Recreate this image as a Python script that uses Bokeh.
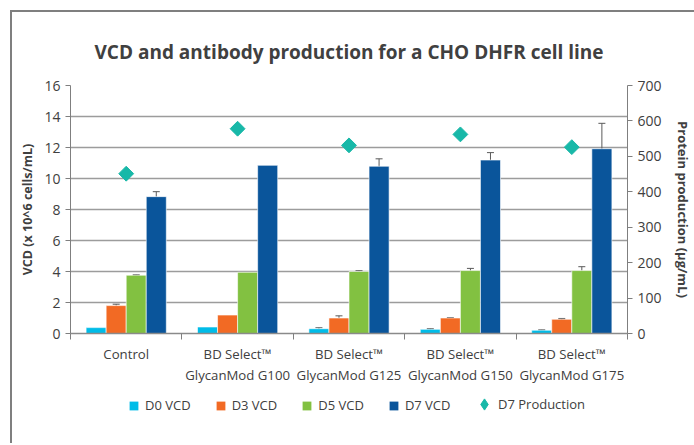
import math
from bokeh.plotting import figure
from bokeh.layouts import column
from bokeh.models import (Range1d, LinearAxis, FixedTicker, Whisker, ColumnDataSource,
                          Legend, LegendItem)
from bokeh.embed import file_html
from bokeh.resources import INLINE

groups = ["Control", "BD Select™\nGlycanMod G100", "BD Select™\nGlycanMod G125",
          "BD Select™\nGlycanMod G150", "BD Select™\nGlycanMod G175"]
d0 = [0.38, 0.42, 0.31, 0.27, 0.21]
d0_err = [0.0, 0.0, 0.06, 0.04, 0.03]
d3 = [1.80, 1.19, 1.00, 1.00, 0.92]
d3_err = [0.09, 0.0, 0.14, 0.03, 0.05]
d5 = [3.76, 3.95, 4.00, 4.06, 4.06]
d5_err = [0.03, 0.0, 0.05, 0.14, 0.25]
d7 = [8.83, 10.85, 10.79, 11.19, 11.92]
d7_err = [0.32, 0.0, 0.48, 0.48, 1.64]
production = [451, 578, 531, 562, 526]
series_names = ["D0 VCD", "D3 VCD", "D5 VCD", "D7 VCD"]
prod_name = "D7 Production"

colors = ["#00BCE8", "#F26A24", "#82C141", "#0A559B"]
prod_color = "#18B8A8"
offsets = [-0.27, -0.09, 0.09, 0.27]
bar_w = 0.18
TXT = "#404040"
FONT = "Open Sans"
W = 682

p = figure(width=W, height=375, output_backend="svg", toolbar_location=None,
           x_range=Range1d(0, len(groups)), y_range=Range1d(0, 16),
           min_border_left=58, min_border_right=61, min_border_top=73, min_border_bottom=47)
p.extra_y_ranges = {"prod": Range1d(0, 700)}
p.outline_line_color = None

p.title.text = "VCD and antibody production for a CHO DHFR cell line"
p.title.align = "center"
p.title.text_font = FONT
p.title.text_font_size = "19px"
p.title.text_font_style = "bold"
p.title.text_color = TXT
p.title.standoff = 41

bar_sources = []
for name, vals, errs, col, off in zip(series_names, [d0, d3, d5, d7],
                                      [d0_err, d3_err, d5_err, d7_err], colors, offsets):
    xs = [i + 0.5 + off for i in range(len(groups))]
    src = ColumnDataSource(dict(x=xs, top=vals))
    bar_sources.append(src)
    p.vbar(x="x", top="top", width=bar_w, source=src, fill_color=col,
           line_color="white", line_width=0.6)
    ex = [x for x, e in zip(xs, errs) if e > 0]
    ev = [v for v, e in zip(vals, errs) if e > 0]
    ee = [e for e in errs if e > 0]
    esrc = ColumnDataSource(dict(x=ex, lo=[v - e for v, e in zip(ev, ee)],
                                 hi=[v + e for v, e in zip(ev, ee)]))
    w = Whisker(base="x", lower="lo", upper="hi", source=esrc, line_color="#5a5a5a",
                line_width=1)
    w.upper_head.size = 7
    w.lower_head.size = 7
    w.upper_head.line_color = "#5a5a5a"
    w.lower_head.line_color = "#5a5a5a"
    p.add_layout(w)

psrc = ColumnDataSource(dict(x=[i + 0.5 for i in range(len(groups))], y=production))
p.scatter(x="x", y="y", source=psrc, marker="square", angle=math.pi / 4, size=10.5,
          fill_color=prod_color, line_color=prod_color, y_range_name="prod")

# x axis
xa = p.xaxis[0]
xa.ticker = FixedTicker(ticks=[i + 0.5 for i in range(len(groups))],
                        minor_ticks=list(range(len(groups) + 1)))
xa.major_label_overrides = {i + 0.5: g for i, g in enumerate(groups)}
xa.major_tick_line_color = None
xa.minor_tick_in = 0
xa.minor_tick_out = 6
xa.minor_tick_line_color = "#7f7f7f"
xa.axis_line_color = "#8a8a8a"
xa.axis_line_width = 1.5
xa.major_label_text_font = FONT
xa.major_label_text_font_size = "13.2px"
xa.major_label_text_color = TXT
xa.major_label_standoff = 5

# left axis
ya = p.yaxis[0]
ya.ticker = FixedTicker(ticks=list(range(0, 17, 2)))
ya.axis_label = "VCD (x 10^6 cells/mL)"
ya.axis_label_text_font = FONT
ya.axis_label_text_font_size = "12.5px"
ya.axis_label_text_font_style = "bold"
ya.axis_label_text_color = TXT
ya.axis_label_standoff = 5
ya.major_label_text_font = FONT
ya.major_label_text_font_size = "14px"
ya.major_label_text_color = TXT
ya.major_label_standoff = 5
ya.major_tick_in = 0
ya.major_tick_out = 5
ya.minor_tick_line_color = None
ya.major_tick_line_color = "#7f7f7f"
ya.axis_line_color = "#7f7f7f"

# right axis
ra = LinearAxis(y_range_name="prod", ticker=FixedTicker(ticks=list(range(0, 701, 100))))
ra.axis_label = "Protein production (µg/mL)"
ra.axis_label_text_font = FONT
ra.axis_label_text_font_size = "13px"
ra.axis_label_text_font_style = "bold"
ra.axis_label_text_color = TXT
ra.axis_label_standoff = 9
ra.major_label_text_font = FONT
ra.major_label_text_font_size = "14px"
ra.major_label_text_color = TXT
ra.major_label_standoff = 5
ra.major_tick_in = 0
ra.major_tick_out = 5
ra.minor_tick_line_color = None
ra.major_tick_line_color = "#7f7f7f"
ra.axis_line_color = "#7f7f7f"
p.add_layout(ra, "right")

p.xgrid.grid_line_color = None
p.ygrid.grid_line_color = "#9c9c9c"
p.ygrid.grid_line_width = 1.5
p.ygrid.ticker = FixedTicker(ticks=list(range(2, 17, 2)))

# legend strip (separate figure below the chart; its ranges keep the swatch data out of view)
lg = figure(width=W, height=56, output_backend="svg", toolbar_location=None,
            x_axis_location=None, y_axis_location=None, min_border=0,
            x_range=Range1d(100, 101), y_range=Range1d(100, 101))
lg.outline_line_color = None
lg.grid.grid_line_color = None
items = []
for name, col, src in zip(series_names, colors, bar_sources):
    r = lg.vbar(x="x", top="top", width=bar_w, source=src, fill_color=col, line_color=None)
    items.append(LegendItem(label=name, renderers=[r]))
rp = lg.scatter(x="x", y="y", source=psrc, marker="diamond", size=10,
                fill_color=prod_color, line_color=prod_color)


def style_legend(lgd, gw):
    lgd.label_text_font = FONT
    lgd.label_text_font_size = "13px"
    lgd.label_text_color = TXT
    lgd.glyph_width = gw
    lgd.glyph_height = gw
    lgd.spacing = 24
    lgd.padding = 0
    lgd.margin = 0
    lgd.border_line_color = None
    lgd.background_fill_alpha = 0


legend = Legend(items=items, orientation="horizontal", location=(58, 29))
style_legend(legend, 11)
legend.label_standoff = 6
lg.add_layout(legend)

legend2 = Legend(items=[LegendItem(label=prod_name, renderers=[rp])],
                 orientation="horizontal", location=(400, 25))
style_legend(legend2, 28)
legend2.label_standoff = 0
lg.add_layout(legend2)

layout = column(p, lg, margin=(10, 0, 0, 10),
                styles={"border-top": "2px solid #7f7f7f", "border-left": "2px solid #7f7f7f"})

open("out.html", "w").write(file_html(layout, INLINE))
